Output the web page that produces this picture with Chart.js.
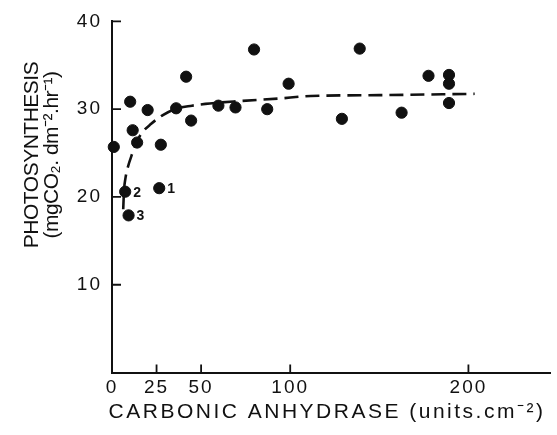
<!DOCTYPE html>
<html>
<head>
<meta charset="utf-8">
<title>Photosynthesis vs carbonic anhydrase</title>
<script src="https://cdn.jsdelivr.net/npm/chart.js@4.4.1/dist/chart.umd.min.js"></script>
<style>
    html, body { margin: 0; padding: 0; background: #fff; }
    #chart { display: block; }
</style>
</head>
<body>
<canvas id="chart" width="557" height="435"></canvas>
<script>
// ── Data ──────────────────────────────
const caUnits   = [1, 10.2, 20, 11.6, 14.1, 27.4, 7.4, 9.3, 26.5, 36, 41.6, 44.4, 59.7, 69.3, 79.7, 87.1, 99.1, 129, 139, 162.5, 177.6, 189.1, 189.1, 189.1];
const photoRate = [25.7, 30.85, 29.9, 27.6, 26.2, 25.95, 20.6, 17.9, 21.0, 30.1, 33.7, 28.7, 30.4, 30.2, 36.8, 30.0, 32.9, 28.9, 36.9, 29.6, 33.8, 33.9, 32.9, 30.7];
const pointTags = ['', '', '', '', '', '', '2', '3', '1', '', '', '', '', '', '', '', '', '', '', '', '', '', '', ''];

// dashed fitted curve, traced
const fitX = [6.3, 6.7, 7.6, 8.9, 11.3, 13.9, 17.2, 21.8, 28.3, 36.6, 44.9, 52.4, 70, 93, 111.5, 150, 203.5];
const fitY = [18.6, 20.6, 22.2, 23.4, 24.9, 26.3, 27.4, 28.3, 29.3, 30.1, 30.4, 30.6, 30.9, 31.2, 31.5, 31.6, 31.75];

const xTickVals = [0, 25, 50, 100, 200];
const yTickVals = [10, 20, 30, 40];
const xTitle = 'CARBONIC ANHYDRASE (units.cm⁻²)';
const yTitle = ['PHOTOSYNTHESIS', '(mgCO₂. dm⁻².hr⁻¹)'];

const FONT = "'Liberation Sans', Arial, Helvetica, sans-serif";
const INK = '#111';

// ── Inward ticks, axis titles, point numbers ──
const decorations = {
    id: 'decorations',
    beforeDraw(chart) { chart.ctx.letterSpacing = '2px'; },
    afterDraw(chart) {
        const { ctx, chartArea, scales: { x, y } } = chart;
        ctx.save();
        ctx.letterSpacing = '0px';

        // tick marks point into the plot
        ctx.strokeStyle = INK;
        ctx.lineWidth = 1.8;
        ctx.beginPath();
        yTickVals.forEach(v => {
            const py = y.getPixelForValue(v);
            ctx.moveTo(chartArea.left, py);
            ctx.lineTo(chartArea.left + 9, py);
        });
        xTickVals.filter(v => v > 0).forEach(v => {
            const px = x.getPixelForValue(v);
            ctx.moveTo(px, chartArea.bottom);
            ctx.lineTo(px, chartArea.bottom - 8);
        });
        ctx.stroke();

        ctx.fillStyle = INK;

        // x title
        ctx.font = `21px ${FONT}`;
        ctx.letterSpacing = '2.5px';
        ctx.textAlign = 'center';
        ctx.textBaseline = 'alphabetic';
        ctx.fillText(xTitle, 327, 418);

        // y title, two rotated lines
        ctx.letterSpacing = '-0.5px';
        ctx.font = `21px ${FONT}`;
        ctx.save();
        ctx.translate(38, 155);
        ctx.rotate(-Math.PI / 2);
        ctx.fillText(yTitle[0], 0, 0);
        ctx.fillText(yTitle[1], 0, 20);
        ctx.restore();

        // numbered points
        const meta = chart.getDatasetMeta(1);
        ctx.letterSpacing = '0px';
        ctx.font = `bold 14px ${FONT}`;
        ctx.textAlign = 'left';
        ctx.textBaseline = 'middle';
        meta.data.forEach((pt, i) => {
            if (pointTags[i]) ctx.fillText(pointTags[i], pt.x + 8, pt.y + 1);
        });
        ctx.restore();
    }
};

// ── Chart ─────────────────────────────
new Chart(document.getElementById('chart'), {
    type: 'scatter',
    data: {
        datasets: [
            {
                type: 'line',
                data: fitX.map((v, i) => ({ x: v, y: fitY[i] })),
                borderColor: INK,
                borderWidth: 2.6,
                borderDash: [14, 7],
                pointRadius: 0,
                fill: false,
                cubicInterpolationMode: 'monotone'
            },
            {
                data: caUnits.map((v, i) => ({ x: v, y: photoRate[i] })),
                backgroundColor: INK,
                borderColor: INK,
                pointRadius: 5.6,
                pointHoverRadius: 5.6,
                clip: false
            }
        ]
    },
    options: {
        responsive: false,
        animation: false,
        devicePixelRatio: 1,
        layout: { padding: { left: 0, right: 1, top: 16, bottom: 0 } },
        plugins: { legend: { display: false }, tooltip: { enabled: false } },
        scales: {
            x: {
                type: 'linear', min: 0, max: 246,
                afterFit: s => { s.height = 62.5; },
                afterBuildTicks: s => { s.ticks = xTickVals.map(v => ({ value: v })); },
                grid: { display: false, drawTicks: false },
                border: { display: true, color: INK, width: 2 },
                ticks: { color: INK, padding: 4, maxRotation: 0, autoSkip: false, font: { family: FONT, size: 19 } }
            },
            y: {
                type: 'linear', min: 0, max: 40,
                afterFit: s => { s.width = 112; },
                afterBuildTicks: s => { s.ticks = yTickVals.map(v => ({ value: v })); },
                grid: { display: false, drawTicks: false },
                border: { display: true, color: INK, width: 2 },
                ticks: { color: INK, padding: 10, autoSkip: false, font: { family: FONT, size: 19 } }
            }
        }
    },
    plugins: [decorations]
});
</script>
</body>
</html>
